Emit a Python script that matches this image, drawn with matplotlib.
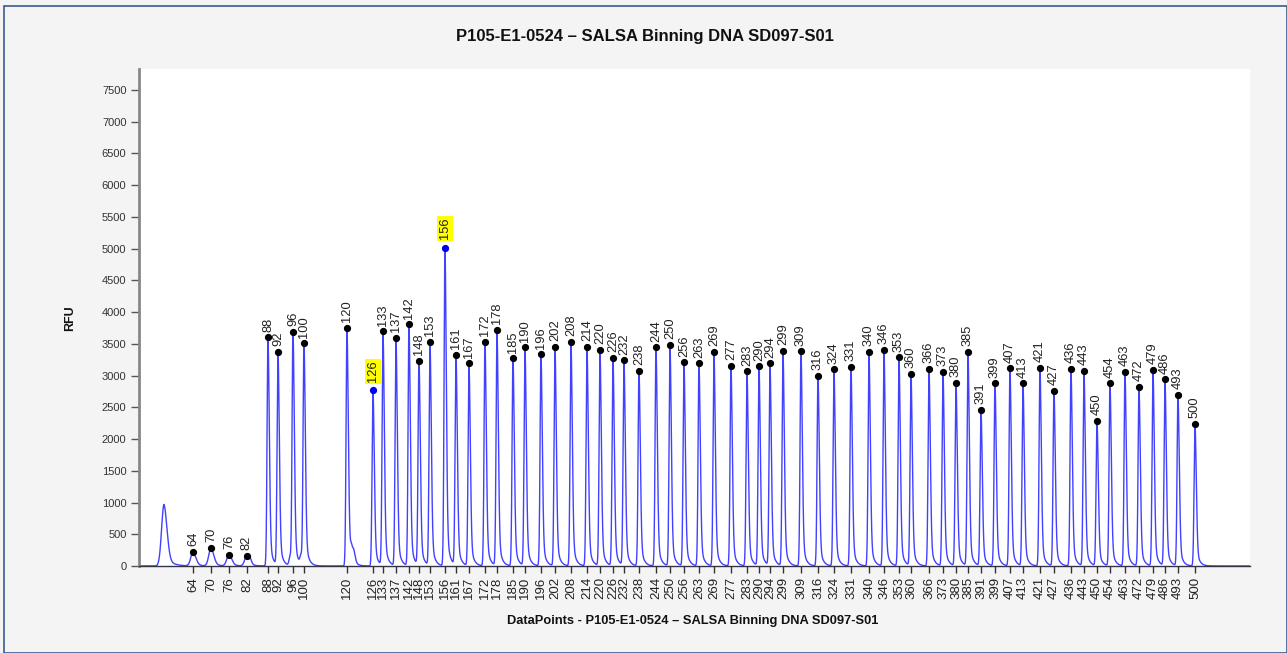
import numpy as np
import matplotlib
matplotlib.use("Agg")
import matplotlib.pyplot as plt
from matplotlib.patches import Rectangle

# ---- data ----
title = "P105-E1-0524 \u2013 SALSA Binning DNA SD097-S01"
xlabel = "DataPoints - P105-E1-0524 \u2013 SALSA Binning DNA SD097-S01"
ylabel = "RFU"

sizes = [64, 70, 76, 82, 88, 92, 96, 100, 120, 126, 133, 137, 142, 148, 153, 156,
         161, 167, 172, 178, 185, 190, 196, 202, 208, 214, 220, 226, 232, 238, 244,
         250, 256, 263, 269, 277, 283, 290, 294, 299, 309, 316, 324, 331, 340, 346,
         353, 360, 366, 373, 380, 385, 391, 399, 407, 413, 421, 427, 436, 443, 450,
         454, 463, 472, 479, 486, 493, 500]
positions = [540, 720, 900, 1080, 1290, 1390, 1540, 1650, 2080, 2340, 2440, 2570,
             2700, 2800, 2910, 3060, 3170, 3300, 3460, 3580, 3740, 3860, 4020, 4160,
             4320, 4480, 4610, 4740, 4850, 5000, 5170, 5310, 5450, 5600, 5750, 5920,
             6080, 6200, 6310, 6440, 6620, 6790, 6950, 7120, 7300, 7450, 7600, 7720,
             7900, 8040, 8170, 8290, 8420, 8560, 8710, 8840, 9010, 9150, 9320, 9450,
             9580, 9710, 9860, 10000, 10140, 10260, 10390, 10560]
heights = [220, 283, 178, 165, 3600, 3376, 3692, 3508, 3754, 2767, 3697, 3597,
           3808, 3234, 3529, 5015, 3329, 3193, 3534, 3723, 3272, 3445, 3335, 3455,
           3529, 3450, 3408, 3277, 3241, 3077, 3445, 3487, 3209, 3193, 3371, 3151,
           3067, 3146, 3193, 3387, 3382, 2998, 3098, 3135, 3376, 3408, 3287, 3030,
           3104, 3062, 2883, 3371, 2463, 2878, 3114, 2878, 3125, 2762, 3104, 3077,
           2285, 2878, 3056, 2820, 3088, 2941, 2694, 2242]
highlighted = [126, 156]

# unlabeled peaks (primer peak and small shoulders)
minor_pos = [250, 1510, 1620, 2125, 2150, 1110]
minor_rfu = [970, 140, 140, 200, 140, 50]

yticks = list(range(0, 7501, 500))

# ---- trace ----
x = np.arange(0, 11110, 1.0)
trace = np.zeros_like(x)


def add_peak(x0, h, sl, sr, tau, w=0.2):
    dx = x - x0
    left = np.exp(-0.5 * (dx / sl) ** 2)
    right = (1 - w) * np.exp(-0.5 * (dx / sr) ** 2) + w * np.exp(-np.clip(dx, 0, None) / tau)
    return h * np.where(dx < 0, left, right)


for s, p, h in zip(sizes, positions, heights):
    if h < 1000:
        trace += add_peak(p, h, 22, 28, 50)
    else:
        trace += add_peak(p, h, 9, 13, 28)
for p, h in zip(minor_pos, minor_rfu):
    if h > 500:
        trace += add_peak(p, h, 24, 30, 60)
    else:
        trace += add_peak(p, h, 10, 14, 30)

# ---- figure ----
W, H = 1287, 653
fig = plt.figure(figsize=(W / 100, H / 100), dpi=100, facecolor="#f4f4f4")
fig.patches.append(Rectangle((4 / W, 0), (W - 4) / W, (H - 6) / H, transform=fig.transFigure,
                             fill=False, edgecolor="#3b5b8f", linewidth=1.2))

ax = fig.add_axes([139 / W, 87 / H, (1250 - 139) / W, (566 - 69) / H])
ax.set_facecolor("white")
ax.plot(x, trace, color="#2020ff", linewidth=1.0, alpha=0.85, zorder=2)

ax.set_xlim(0, 11110)
ax.set_ylim(0, 7830)

for s, p, h in zip(sizes, positions, heights):
    hl = s in highlighted
    ax.plot(p, h, "o", color="#0000ee" if hl else "black", markersize=4.2, zorder=4)
    kw = dict(rotation=90, ha="center", va="bottom", fontsize=9.3, color="#222222",
              family="Liberation Sans", zorder=5)
    if hl:
        kw["bbox"] = dict(boxstyle="square,pad=0.15", facecolor="#ffff00", edgecolor="none")
        ax.text(p, h + 130, str(s), **kw)
    else:
        ax.text(p, h + 90, str(s), **kw)

ax.set_yticks(yticks)
ax.set_yticklabels([str(v) for v in yticks], fontsize=8, color="#333333", family="Liberation Sans")
ax.set_xticks(positions)
ax.set_xticklabels([str(s) for s in sizes], rotation=90, fontsize=9.5, color="#222222",
                   family="Liberation Sans")
ax.tick_params(axis="y", length=6, width=1, color="#555555", pad=3)
ax.tick_params(axis="x", length=5, width=1, color="#333333", pad=3)

for side in ["top", "right"]:
    ax.spines[side].set_visible(False)
ax.spines["left"].set_color("#888888")
ax.spines["left"].set_linewidth(2)
ax.spines["bottom"].set_color("#334")
ax.spines["bottom"].set_linewidth(1)

fig.text(645 / W, 1 - 37 / H, title, ha="center", va="center", fontsize=12,
         fontweight="bold", color="#111111", family="Liberation Sans")
fig.text(693 / W, 1 - 621 / H, xlabel, ha="center", va="center", fontsize=9.3,
         fontweight="bold", color="#111111", family="Liberation Sans")
fig.text(70 / W, 1 - 318 / H, ylabel, ha="center", va="center", fontsize=9,
         fontweight="bold", rotation=90, color="#111111", family="Liberation Sans")

fig.savefig("out.png", dpi=100, facecolor=fig.get_facecolor())
